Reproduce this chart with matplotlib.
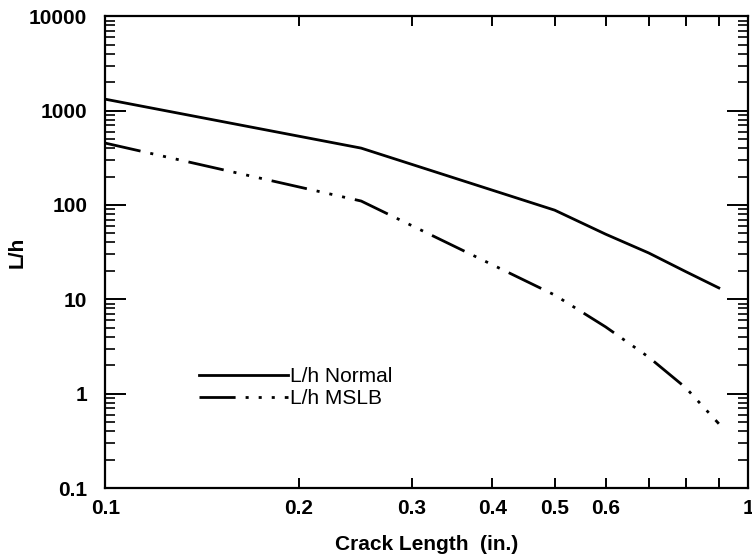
import numpy as np
import matplotlib.pyplot as plt
from matplotlib.ticker import FixedLocator, FixedFormatter, NullLocator

# data
crack = [0.1, 0.25, 0.5, 0.6, 0.7, 0.8, 0.9]
lh_normal = [1320, 400, 88, 49, 31, 19.6, 13.2]
lh_mslb = [452, 110, 11.1, 5.1, 2.44, 1.15, 0.48]

xticks = [0.1, 0.2, 0.3, 0.4, 0.5, 0.6, 0.7, 0.8, 0.9, 1.0]
xticklabels = ['0.1', '0.2', '0.3', '0.4', '0.5', '0.6', '', '', '', '1']
yticks = [0.1, 1, 10, 100, 1000, 10000]
yticklabels = ['0.1', '1', '10', '100', '1000', '10000']

plt.rcParams['font.family'] = ['Liberation Sans', 'DejaVu Sans']

fig = plt.figure(figsize=(7.52, 5.59), dpi=100)
ax = fig.add_axes([0.140, 0.127, 0.855, 0.844])

ax.plot(crack, lh_normal, color='black', lw=2.0, label='L/h Normal')
ax.plot(crack, lh_mslb, color='black', lw=2.0,
        linestyle=(0, (13, 3.6, 1.1, 3.6, 1.1, 3.6, 1.1, 3.6)),
        label='L/h MSLB')

ax.set_xscale('log')
ax.set_yscale('log')
ax.set_xlim(0.1, 1.0)
ax.set_ylim(0.1, 10000)

ax.xaxis.set_major_locator(FixedLocator(xticks))
ax.xaxis.set_major_formatter(FixedFormatter(xticklabels))
ax.xaxis.set_minor_locator(NullLocator())
ax.yaxis.set_major_locator(FixedLocator(yticks))
ax.yaxis.set_major_formatter(FixedFormatter(yticklabels))
minor_y = [m * 10.0 ** e for e in range(-1, 4) for m in range(2, 10)]
ax.yaxis.set_minor_locator(FixedLocator(minor_y))

ax.tick_params(axis='x', which='major', direction='in', length=7, width=1.4,
               top=True, pad=8, labelsize=15)
ax.tick_params(axis='y', which='major', direction='in', length=15, width=1.4,
               right=True, pad=13, labelsize=15)
ax.tick_params(axis='y', which='minor', direction='in', length=7, width=1.2,
               right=True)
for lbl in ax.get_xticklabels() + ax.get_yticklabels():
    lbl.set_fontweight('bold')

for sp in ax.spines.values():
    sp.set_linewidth(1.6)

ax.set_xlabel('Crack Length  (in.)', fontsize=15, fontweight='bold', labelpad=12)
ax.set_ylabel('L/h', fontsize=15, fontweight='bold', labelpad=2)

ax.legend(loc='center left', bbox_to_anchor=(0.145, 0.213), frameon=False,
          fontsize=15, handlelength=4.3, handletextpad=0.1, labelspacing=0.15,
          borderpad=0, borderaxespad=0)

fig.savefig('out.png', dpi=100)
